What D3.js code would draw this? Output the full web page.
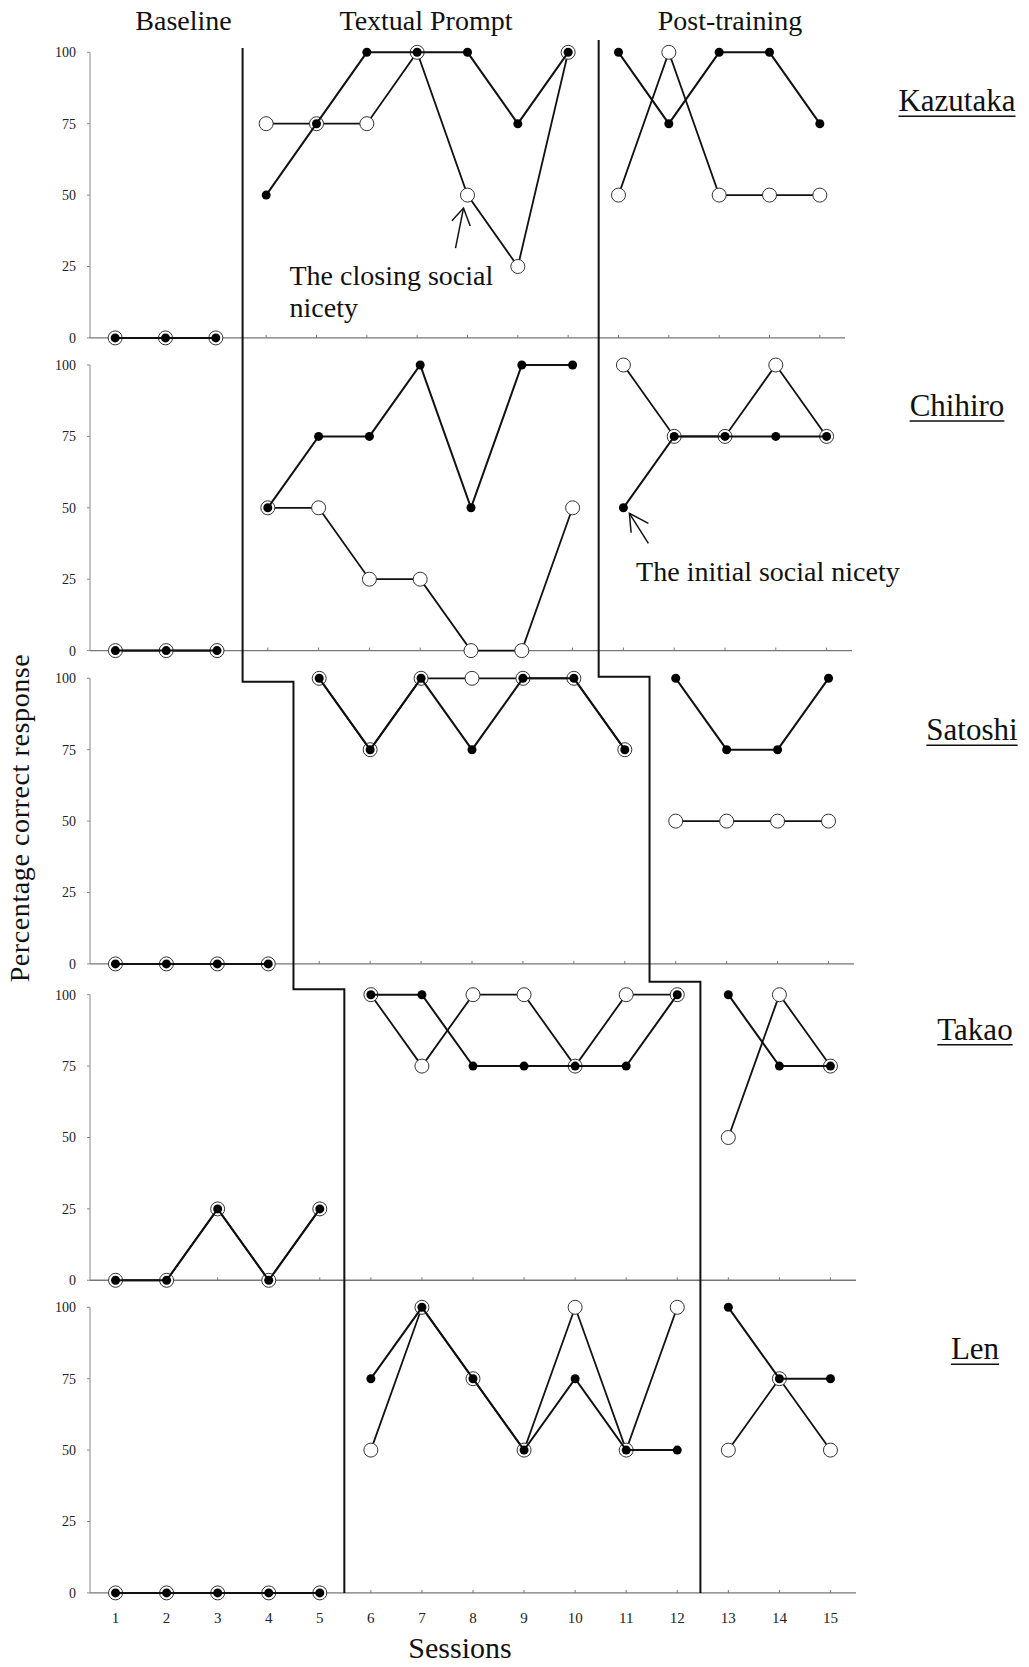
<!DOCTYPE html>
<html>
<head>
<meta charset="utf-8">
<script src="https://cdnjs.cloudflare.com/ajax/libs/d3/7.8.5/d3.min.js"></script>
<style>
  body { margin: 0; background: #fff; }
  text { font-family: "Liberation Serif", "Times New Roman", serif; fill: #111; }
</style>
</head>
<body>
<div id="chart"></div>
<script>
// ---- data ----
var sessions = d3.range(1, 16);
var participants = ["Kazutaka", "Chihiro", "Satoshi", "Takao", "Len"];
var phaseNames = ["Baseline", "Textual Prompt", "Post-training"];
var yTicks = [0, 25, 50, 75, 100];

// last session of baseline / textual prompt for each participant
var baselineEnd = [3, 3, 4, 5, 5];
var promptEnd = [10, 10, 11, 12, 12];

// filled dots = initial social nicety, open circles = closing social nicety
var initialKazutaka = [0, 0, 0, 50, 75, 100, 100, 100, 75, 100, 100, 75, 100, 100, 75];
var closingKazutaka = [0, 0, 0, 75, 75, 75, 100, 50, 25, 100, 50, 100, 50, 50, 50];
var initialChihiro = [0, 0, 0, 50, 75, 75, 100, 50, 100, 100, 50, 75, 75, 75, 75];
var closingChihiro = [0, 0, 0, 50, 50, 25, 25, 0, 0, 50, 100, 75, 75, 100, 75];
var initialSatoshi = [0, 0, 0, 0, 100, 75, 100, 75, 100, 100, 75, 100, 75, 75, 100];
var closingSatoshi = [0, 0, 0, 0, 100, 75, 100, 100, 100, 100, 75, 50, 50, 50, 50];
var initialTakao = [0, 0, 25, 0, 25, 100, 100, 75, 75, 75, 75, 100, 100, 75, 75];
var closingTakao = [0, 0, 25, 0, 25, 100, 75, 100, 100, 75, 100, 100, 50, 100, 75];
var initialLen = [0, 0, 0, 0, 0, 75, 100, 75, 50, 75, 50, 50, 100, 75, 75];
var closingLen = [0, 0, 0, 0, 0, 50, 100, 75, 50, 100, 50, 100, 50, 75, 50];

var initialSeries = [initialKazutaka, initialChihiro, initialSatoshi, initialTakao, initialLen];
var closingSeries = [closingKazutaka, closingChihiro, closingSatoshi, closingTakao, closingLen];

// ---- layout ----
var svgWidth = 1029;
var svgHeight = 1667;
var panelTop = [52.3, 365, 678.3, 994.7, 1307.3];
var panelHeight = 285.6;
var panelLeft = 90;
var panelRight = [845, 852, 854, 856, 856];
var nameLayout = [[957, 59], [957, 51], [972, 62], [975, 45], [975, 52]];

var svg = d3.select("#chart")
  .append("svg")
  .attr("width", svgWidth)
  .attr("height", svgHeight);

svg.append("rect")
  .attr("width", svgWidth)
  .attr("height", svgHeight)
  .attr("fill", "#fff");

// shared scale for phase change lines
var xShared = d3.scaleLinear().domain([0.5, 15.5]).range([90, 853]);

var lineGen = d3.line()
  .x(d => d.x)
  .y(d => d.y);

participants.forEach(function(name, i) {
  var xScale = d3.scaleLinear().domain([0.5, 15.5]).range([panelLeft, panelRight[i]]);
  var yScale = d3.scaleLinear().domain([0, 100]).range([panelTop[i] + panelHeight, panelTop[i]]);
  var g = svg.append("g");

  // y axis
  g.append("line")
    .attr("x1", panelLeft).attr("x2", panelLeft)
    .attr("y1", yScale(100)).attr("y2", yScale(0))
    .attr("stroke", "#888").attr("stroke-width", 1);
  g.selectAll(".ytick")
    .data(yTicks)
    .enter()
    .append("line")
    .attr("x1", panelLeft - 3).attr("x2", panelLeft)
    .attr("y1", d => yScale(d)).attr("y2", d => yScale(d))
    .attr("stroke", "#888").attr("stroke-width", 1);
  g.selectAll(".ylab")
    .data(yTicks)
    .enter()
    .append("text")
    .attr("x", panelLeft - 14)
    .attr("y", d => yScale(d))
    .attr("dy", "0.35em")
    .attr("text-anchor", "end")
    .attr("font-size", 14)
    .style("fill", "#222")
    .text(d => d);

  // x axis
  g.append("line")
    .attr("x1", panelLeft).attr("x2", panelRight[i])
    .attr("y1", yScale(0)).attr("y2", yScale(0))
    .attr("stroke", "#777").attr("stroke-width", 1.4);
  g.selectAll(".xtick")
    .data(sessions)
    .enter()
    .append("line")
    .attr("x1", d => xScale(d)).attr("x2", d => xScale(d))
    .attr("y1", yScale(0) - 3).attr("y2", yScale(0))
    .attr("stroke", "#777").attr("stroke-width", 1);

  if (i === participants.length - 1) {
    g.selectAll(".xlab")
      .data(sessions)
      .enter()
      .append("text")
      .attr("x", d => xScale(d))
      .attr("y", yScale(0) + 30)
      .attr("text-anchor", "middle")
      .attr("font-size", 15)
      .style("fill", "#222")
      .text(d => d);
  }

  // split each series by phase
  var phases = [
    [1, baselineEnd[i]],
    [baselineEnd[i] + 1, promptEnd[i]],
    [promptEnd[i] + 1, 15]
  ];
  function segments(values) {
    return phases.map(function(p) {
      return d3.range(p[0], p[1] + 1).map(s => ({ x: xScale(s), y: yScale(values[s - 1]) }));
    });
  }
  var closing = segments(closingSeries[i]);
  var initial = segments(initialSeries[i]);

  g.selectAll(".closingLine")
    .data(closing)
    .enter()
    .append("path")
    .attr("d", lineGen)
    .attr("fill", "none")
    .attr("stroke", "#111")
    .attr("stroke-width", 1.8);

  g.selectAll(".closingDot")
    .data(sessions)
    .enter()
    .append("circle")
    .attr("cx", d => xScale(d))
    .attr("cy", d => yScale(closingSeries[i][d - 1]))
    .attr("r", 7)
    .attr("fill", "#fff")
    .attr("stroke", "#333")
    .attr("stroke-width", 1);

  g.selectAll(".initialLine")
    .data(initial)
    .enter()
    .append("path")
    .attr("d", lineGen)
    .attr("fill", "none")
    .attr("stroke", "#111")
    .attr("stroke-width", 2);

  g.selectAll(".initialDot")
    .data(sessions)
    .enter()
    .append("circle")
    .attr("cx", d => xScale(d))
    .attr("cy", d => yScale(initialSeries[i][d - 1]))
    .attr("r", 4.5)
    .attr("fill", "#000");

  // participant name, underlined
  var nameText = g.append("text")
    .attr("x", nameLayout[i][0])
    .attr("y", panelTop[i] + nameLayout[i][1])
    .attr("text-anchor", "middle")
    .attr("font-size", 31)
    .text(name);
  var w = nameText.node().getComputedTextLength();
  g.append("line")
    .attr("x1", nameLayout[i][0] - w / 2).attr("x2", nameLayout[i][0] + w / 2)
    .attr("y1", panelTop[i] + nameLayout[i][1] + 5)
    .attr("y2", panelTop[i] + nameLayout[i][1] + 5)
    .attr("stroke", "#111").attr("stroke-width", 1.5);
});

// phase change lines (staircase)
var stepOffsetA = { 2: 3.4, 3: -5.4 };
var stepOffsetB = { 2: -1.6, 3: -13 };
function stairPath(ends, startY, offsets) {
  var pts = [[xShared(ends[0] + 0.5), startY]];
  for (var i = 1; i < ends.length; i++) {
    if (ends[i] !== ends[i - 1]) {
      var y = panelTop[i] + offsets[i];
      pts.push([xShared(ends[i - 1] + 0.5), y]);
      pts.push([xShared(ends[i] + 0.5), y]);
    }
  }
  pts.push([xShared(ends[ends.length - 1] + 0.5), panelTop[4] + panelHeight]);
  return d3.line()(pts);
}
svg.append("path")
  .attr("d", stairPath(baselineEnd, 48, stepOffsetA))
  .attr("fill", "none").attr("stroke", "#111").attr("stroke-width", 2);
svg.append("path")
  .attr("d", stairPath(promptEnd, 40, stepOffsetB))
  .attr("fill", "none").attr("stroke", "#111").attr("stroke-width", 2);

// phase titles
var phaseX = [183.5, 426, 730];
svg.selectAll(".phase")
  .data(phaseNames)
  .enter()
  .append("text")
  .attr("x", (d, i) => phaseX[i])
  .attr("y", 30)
  .attr("text-anchor", "middle")
  .attr("font-size", 28)
  .text(d => d);

// annotations with open arrows
function annotate(px, py, tip, tail, wing1, wing2, lines, tx, ty) {
  var a = svg.append("g")
    .attr("stroke", "#111").attr("stroke-width", 1.5).attr("fill", "none");
  a.append("path").attr("d", d3.line()([[px + tail[0], py + tail[1]], [px + tip[0], py + tip[1]]]));
  a.append("path").attr("d", d3.line()([[px + wing1[0], py + wing1[1]], [px + tip[0], py + tip[1]], [px + wing2[0], py + wing2[1]]]));
  lines.forEach(function(t, k) {
    svg.append("text")
      .attr("x", px + tx)
      .attr("y", py + ty + k * 32)
      .attr("font-size", 28)
      .text(t);
  });
}
var x0 = d3.scaleLinear().domain([0.5, 15.5]).range([panelLeft, panelRight[0]]);
var y0 = d3.scaleLinear().domain([0, 100]).range([panelTop[0] + panelHeight, panelTop[0]]);
annotate(x0(8), y0(closingKazutaka[7]), [-4, 13], [-12, 53], [-15.6, 25.7], [2.7, 31],
  ["The closing social", "nicety"], -178, 90);
var x1 = d3.scaleLinear().domain([0.5, 15.5]).range([panelLeft, panelRight[1]]);
var y1 = d3.scaleLinear().domain([0, 100]).range([panelTop[1] + panelHeight, panelTop[1]]);
annotate(x1(11), y1(initialChihiro[10]), [6, 5.6], [25, 35.6], [7.7, 25], [25, 15.6],
  ["The initial social nicety"], 12.7, 73);

// axis titles
svg.append("text")
  .attr("transform", "translate(29, 818) rotate(-90)")
  .attr("text-anchor", "middle")
  .attr("font-size", 28)
  .attr("letter-spacing", 0.6)
  .text("Percentage correct response");

svg.append("text")
  .attr("x", 460)
  .attr("y", 1658)
  .attr("text-anchor", "middle")
  .attr("font-size", 30)
  .text("Sessions");
</script>
</body>
</html>
